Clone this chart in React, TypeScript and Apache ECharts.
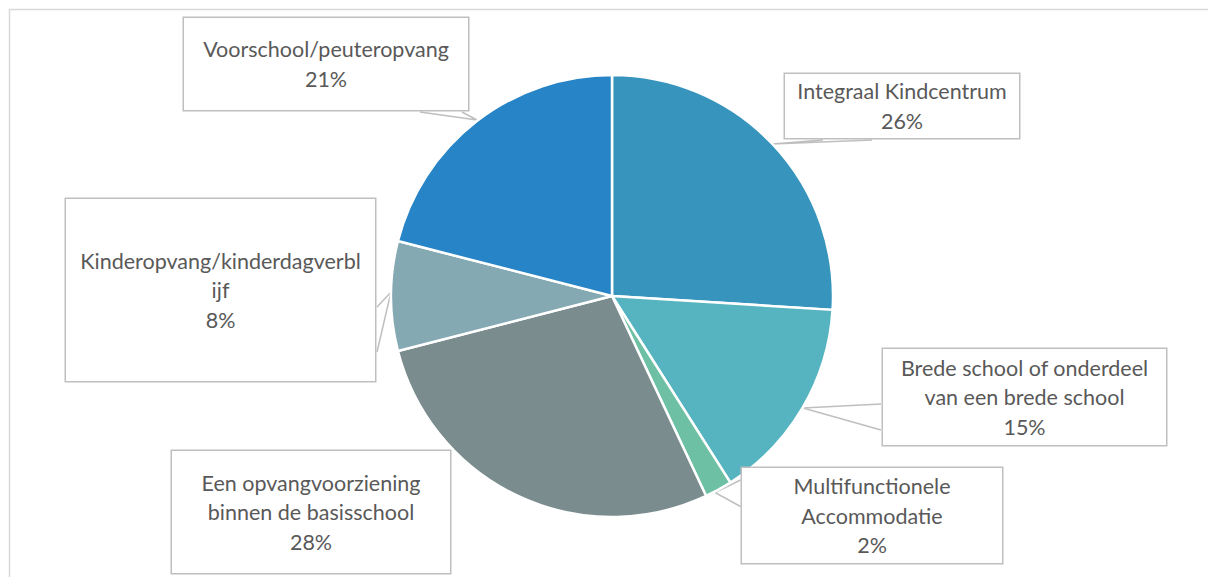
import React, { useEffect, useRef } from "react";
import * as echarts from "echarts";

const categories = [
  "Integraal Kindcentrum",
  "Brede school of onderdeel\nvan een brede school",
  "Multifunctionele\nAccommodatie",
  "Een opvangvoorziening\nbinnen de basisschool",
  "Kinderopvang/kinderdagverbl\nijf",
  "Voorschool/peuteropvang",
];
const values = [26, 15, 2, 28, 8, 21];
const colors = ["#3794BD", "#56B4C1", "#6EC0A4", "#7A8C8E", "#84A9B3", "#2784C6"];

// label box layout: center x, center y, width, height
const boxes = [
  [902, 106, 238, 68],
  [1024.5, 397, 287, 100],
  [872, 515.5, 264, 99],
  [311, 512, 282, 126],
  [220.5, 290, 313, 186],
  [326, 64, 288, 96],
];
const pointers: (number[][] | null)[] = [
  [[823, 140], [772, 144], [872, 140]],
  [[881, 404], [803, 408], [881, 430]],
  [[740.5, 480], [715, 492.5], [740.5, 506.5]],
  null,
  [[377, 307], [391, 292], [377, 352]],
  [[420, 112], [477, 120], [462, 112]],
];

export default function App() {
  const ref = useRef<HTMLDivElement>(null);
  useEffect(() => {
    document.body.style.margin = "0";
    const chart = echarts.init(ref.current!, null, { renderer: "svg" });
    chart.setOption({
      animation: false,
      backgroundColor: "#ffffff",
      graphic: [
        {
          type: "rect",
          shape: { x: 9.5, y: 9.5, width: 1230, height: 620 },
          style: { fill: "none", stroke: "#D9D9D9", lineWidth: 1.5 },
          z: 0,
        },
      ],
      series: [
        {
          type: "pie",
          center: [612, 296],
          radius: 221,
          startAngle: 90,
          clockwise: true,
          itemStyle: { borderColor: "#ffffff", borderWidth: 2.5 },
          label: {
            show: true,
            position: "outside",
            formatter: (p: any) => `${p.name}\n${p.value}%`,
            fontFamily: "Lato, 'Noto Sans', sans-serif",
            fontSize: 21.5,
            lineHeight: 29.5,
            color: "#595959",
            align: "center",
            verticalAlign: "middle",
            backgroundColor: "#ffffff",
            borderColor: "#BFBFBF",
            borderWidth: 1.5,
          },
          labelLine: {
            show: true,
            lineStyle: { color: "#BFBFBF", width: 1.5 },
          },
          labelLayout: (params: any) => {
            const b = boxes[params.dataIndex];
            const res: any = {
              x: b[0],
              y: b[1],
              align: "center",
              verticalAlign: "middle",
            };
            const pts = pointers[params.dataIndex];
            if (pts) res.labelLinePoints = pts;
            return res;
          },
          data: categories.map((name, i) => ({
            name,
            value: values[i],
            itemStyle: { color: colors[i] },
            label: {
              width: boxes[i][2] - 4,
              height: boxes[i][3] - 4,
            },
            labelLine: { show: pointers[i] !== null },
          })),
        },
      ],
    });
    return () => chart.dispose();
  }, []);
  return (
    <div
      ref={ref}
      style={{ position: "absolute", left: 0, top: 0, width: 1208, height: 577 }}
    />
  );
}
